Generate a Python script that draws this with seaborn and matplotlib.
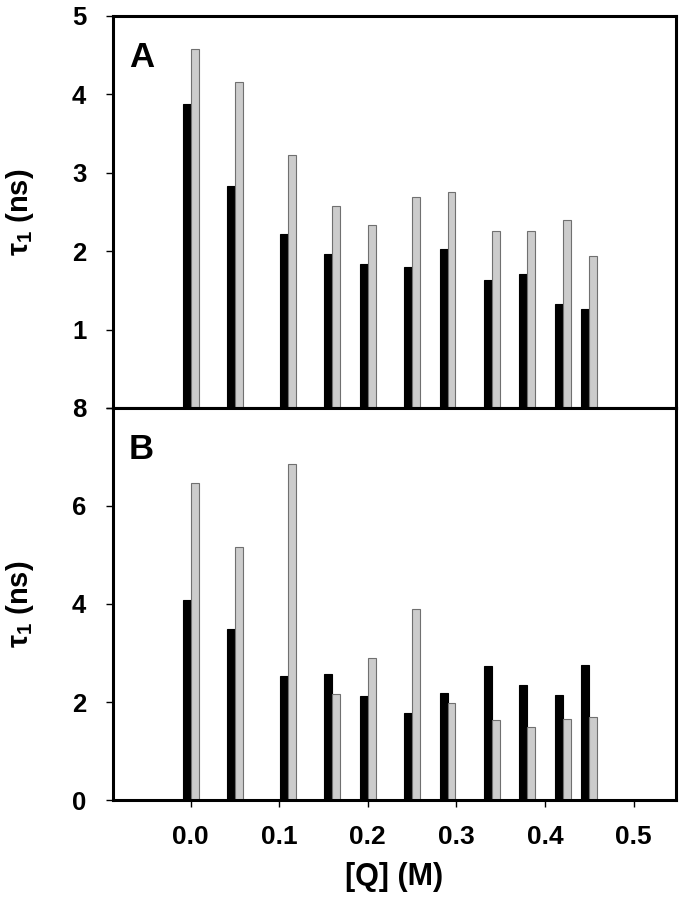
import matplotlib
matplotlib.use("Agg")
import matplotlib.pyplot as plt
import pandas as pd
import seaborn as sns

# quencher concentrations (M)
conc = [0.0, 0.05, 0.11, 0.16, 0.20, 0.25, 0.29, 0.34, 0.38, 0.42, 0.45]

# panel A lifetimes (ns)
a_black = [3.87, 2.83, 2.22, 1.96, 1.84, 1.80, 2.02, 1.63, 1.71, 1.32, 1.26]
a_grey = [4.57, 4.15, 3.22, 2.58, 2.33, 2.69, 2.75, 2.26, 2.26, 2.40, 1.94]

# panel B lifetimes (ns)
b_black = [4.09, 3.49, 2.53, 2.57, 2.13, 1.77, 2.18, 2.73, 2.35, 2.15, 2.76]
b_grey = [6.47, 5.17, 6.85, 2.16, 2.89, 3.90, 1.98, 1.63, 1.49, 1.65, 1.69]

sns.set_style("white")
plt.rcParams["font.family"] = ["Liberation Sans", "DejaVu Sans"]
plt.rcParams["font.weight"] = "bold"
plt.rcParams["mathtext.default"] = "regular"
for key in ["text.color", "axes.labelcolor", "xtick.color", "ytick.color"]:
    plt.rcParams[key] = "black"


def make_df(black, grey):
    return pd.DataFrame(
        {
            "conc": conc * 2,
            "tau": black + grey,
            "series": ["black"] * len(conc) + ["grey"] * len(conc),
        }
    )


fig = plt.figure(figsize=(6.81, 9), dpi=100)
axA = fig.add_axes([0.1655, 0.5467, 0.8272, 0.4359])
axB = fig.add_axes([0.1655, 0.1111, 0.8272, 0.4356])

panels = [
    (axA, make_df(a_black, a_grey), "A", (0, 5), [0, 1, 2, 3, 4, 5], ["", "1", "2", "3", "4", "5"]),
    (axB, make_df(b_black, b_grey), "B", (0, 8), [0, 2, 4, 6, 8], ["0", "2", "4", "6", "8"]),
]

for ax, df, letter, ylim, yt, ytl in panels:
    sns.barplot(
        data=df,
        x="conc",
        y="tau",
        hue="series",
        native_scale=True,
        dodge=True,
        width=0.6,
        errorbar=None,
        palette={"black": "#000000", "grey": "#cccccc"},
        legend=False,
        ax=ax,
    )
    for cont, ec in zip(ax.containers, ["#000000", "#707070"]):
        for p in cont:
            p.set_edgecolor(ec)
            p.set_linewidth(0.8)
    ax.set_xlim(-0.088, 0.548)
    ax.set_ylim(*ylim)
    ax.set_yticks(yt)
    ax.set_yticklabels(ytl, fontsize=18.5, fontweight="bold")
    ax.set_xticks([0.0, 0.1, 0.2, 0.3, 0.4, 0.5])
    ax.set_ylabel(r"$\tau_1$ (ns)", fontsize=21, fontweight="bold")
    ax.yaxis.set_label_coords(-0.137, 0.5)
    ax.tick_params(axis="both", direction="out", length=5, width=1,
                   left=True, bottom=True, top=False, right=False)
    ax.tick_params(axis="y", pad=14)
    for s in ax.spines.values():
        s.set_linewidth(2.2)
        s.set_color("black")
    ax.text(0.029, 0.935, letter, transform=ax.transAxes, ha="left", va="top",
            fontsize=25, fontweight="bold")

axA.set_xlabel("")
axA.set_xticklabels([])
axB.set_xticklabels(["0.0", "0.1", "0.2", "0.3", "0.4", "0.5"], fontsize=19, fontweight="bold")
axB.tick_params(axis="x", pad=13)
axB.set_xlabel("[Q] (M)", fontsize=22, fontweight="bold", labelpad=9)

fig.savefig("out.png", dpi=100)
